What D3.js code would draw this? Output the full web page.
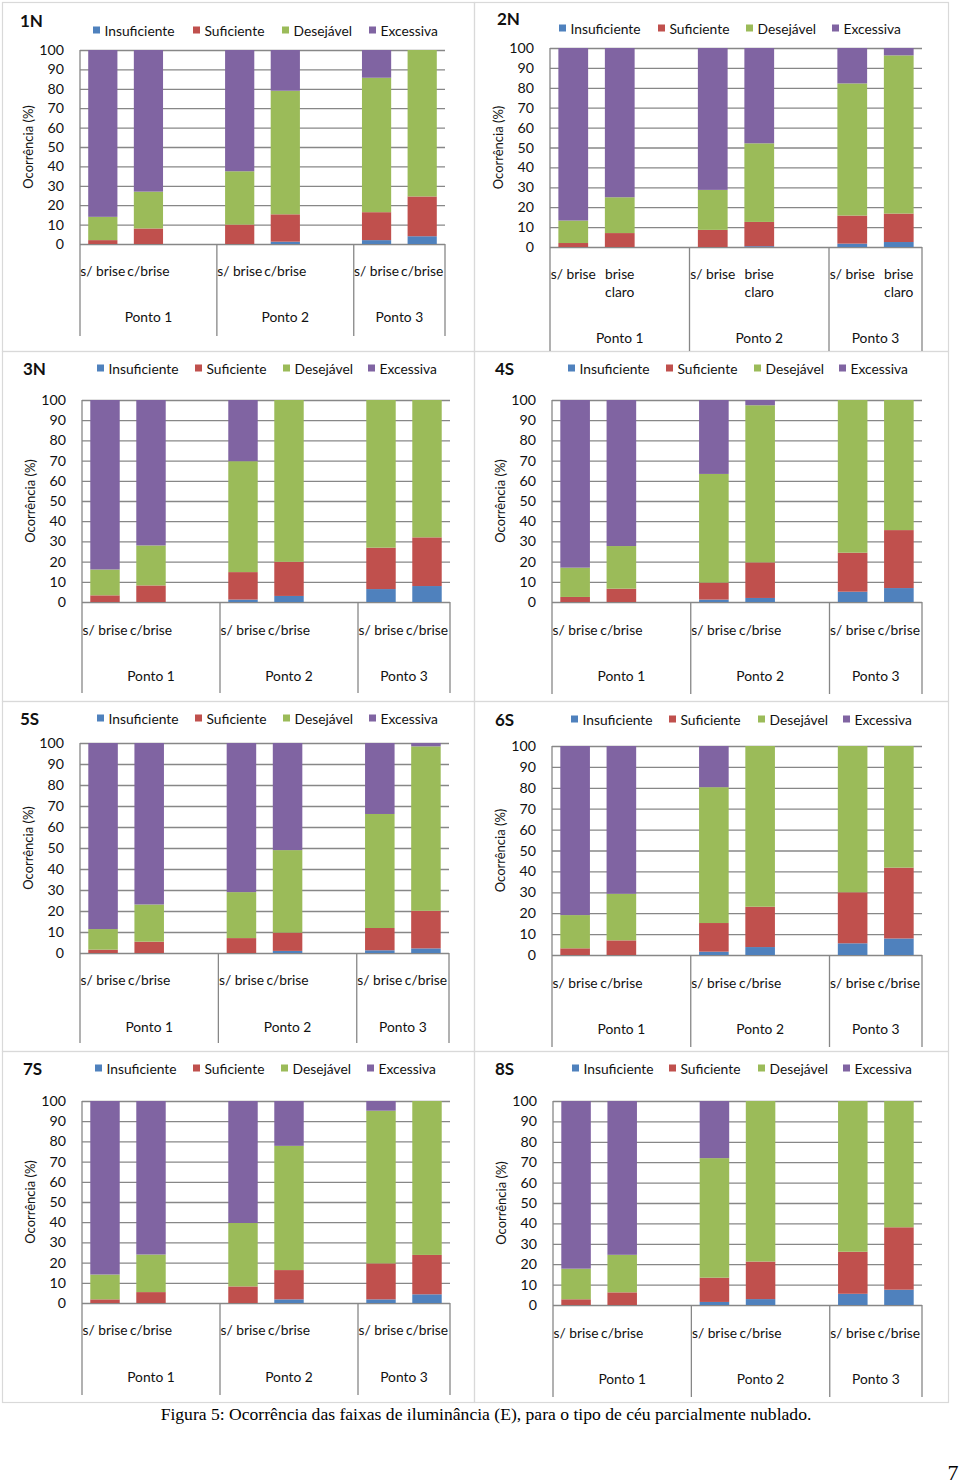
<!DOCTYPE html>
<html><head><meta charset="utf-8">
<script src="https://cdn.jsdelivr.net/npm/d3@7"></script>
<style>body{margin:0;background:#fff}svg{display:block}</style>
</head><body>
<svg id="c" width="960" height="1483"></svg>
<script>
// ---------- DATA ----------
const panelNames = ["1N", "2N", "3N", "4S", "5S", "6S", "7S", "8S"];
const seriesNames = ["Insuficiente", "Suficiente", "Desejável", "Excessiva"];
const pontos = ["Ponto 1", "Ponto 2", "Ponto 3"];
const barLabels = ["s/ brise", "c/brise"];
const barLabels2N = [["s/ brise"], ["brise", "claro"]];
const yTicks = [0, 10, 20, 30, 40, 50, 60, 70, 80, 90, 100];
const axisTitle = "Ocorrência (%)";
const caption = "Figura 5: Ocorrência das faixas de iluminância (E), para o tipo de céu parcialmente nublado.";
const pageNumber = "7";
// bars in order: P1 s/, P1 c/, P2 s/, P2 c/, P3 s/, P3 c/
const insuficiente = [
  [0, 0, 0, 1.2, 2, 4],
  [0, 0, 0, 0.4, 1.7, 2.5],
  [0, 0, 1.2, 3, 6.4, 7.9],
  [0, 0, 1.2, 2, 5.1, 6.9],
  [0, 0, 0, 1, 1.3, 2.2],
  [0, 0, 1.6, 3.8, 5.6, 7.9],
  [0, 0, 0, 1.8, 1.8, 4.3],
  [0, 0, 1.5, 2.9, 5.5, 7.5]
];
const suficiente = [
  [2, 8, 10, 14.1, 14.4, 20.5],
  [2, 7, 8.6, 12.2, 14.1, 14.3],
  [3.3, 8.2, 13.6, 16.9, 20.5, 24.1],
  [2.5, 6.6, 8.4, 17.6, 19.3, 28.7],
  [1.6, 5.4, 7.1, 8.7, 10.6, 17.9],
  [3.2, 7, 13.7, 19.3, 24.4, 33.9],
  [1.8, 5.4, 8.2, 14.5, 17.8, 19.5],
  [2.8, 6.2, 11.9, 18.4, 20.6, 30.6]
];
const desejavel = [
  [12, 19, 27.5, 63.7, 69.3, 75.5],
  [11.3, 18, 20.1, 39.5, 66.4, 79.5],
  [12.8, 19.8, 54.9, 80.1, 73.1, 68],
  [14.5, 21.1, 53.8, 77.8, 75.6, 64.4],
  [9.8, 17.7, 21.9, 39.3, 54.3, 78.3],
  [15.9, 22.3, 65, 76.9, 70, 58.2],
  [12.3, 18.6, 31.4, 61.5, 75.6, 76.2],
  [15, 18.4, 58.6, 78.7, 73.9, 61.9]
];
const excessiva = [
  [86, 73, 62.5, 21, 14.3, 0],
  [86.7, 75, 71.3, 47.9, 17.8, 3.7],
  [83.9, 72, 30.3, 0, 0, 0],
  [83, 72.3, 36.6, 2.6, 0, 0],
  [88.6, 76.9, 71, 51, 33.8, 1.6],
  [80.9, 70.7, 19.7, 0, 0, 0],
  [85.9, 76, 60.4, 22.2, 4.8, 0],
  [82.2, 75.4, 28, 0, 0, 0]
];

// ---------- LAYOUT / STYLE ----------
const colors = ["#4F81BD", "#C0504D", "#9BBB59", "#8064A2"];
const layout = [
  {L:80,  R:445, T:50,   B:244,  CB:336,  catY:270,  pY:316,  tx:20,  ty:20,   ly:30,   lx:[93,193,282,369]},
  {L:550, R:922, T:48,   B:247,  CB:351,  catY:273,  pY:337,  tx:497, ty:18,   ly:28,   lx:[559,658,746,832]},
  {L:82,  R:450, T:400,  B:602,  CB:693,  catY:629,  pY:675,  tx:23,  ty:368,  ly:368,  lx:[97,195,283,368]},
  {L:552, R:922, T:400,  B:602,  CB:694,  catY:629,  pY:675,  tx:495, ty:368,  ly:368,  lx:[568,666,754,839]},
  {L:80,  R:449, T:743,  B:953,  CB:1043, catY:979,  pY:1026, tx:20,  ty:718,  ly:718,  lx:[97,195,283,369]},
  {L:552, R:922, T:746,  B:955,  CB:1047, catY:982,  pY:1028, tx:495, ty:719,  ly:719,  lx:[571,669,758,843]},
  {L:82,  R:450, T:1101, B:1303, CB:1395, catY:1329, pY:1376, tx:23,  ty:1068, ly:1068, lx:[95,193,281,367]},
  {L:553, R:922, T:1101, B:1305, CB:1397, catY:1332, pY:1378, tx:495, ty:1068, ly:1068, lx:[572,669,758,843]}
];
const colX = [2, 474, 948];
const rowY = [2, 351, 701, 1051, 1402];
const FONT = "Lato, 'Open Sans', sans-serif";
const gridColor = "#878787";
const textColor = "#111";

const svg = d3.select("#c");
svg.append("rect").attr("width", 960).attr("height", 1483).attr("fill", "#fff");

// panel frames
for (let r = 0; r < 4; r++) for (let c = 0; c < 2; c++) {
  svg.append("rect")
    .attr("x", colX[c] + 0.5).attr("y", rowY[r] + 0.5)
    .attr("width", colX[c + 1] - colX[c]).attr("height", rowY[r + 1] - rowY[r])
    .attr("fill", "none").attr("stroke", "#d9d9d9").attr("stroke-width", 1.2);
}

const slots = ["P1a", "P1b", "P1x", "P2a", "P2b", "P2x", "P3a", "P3b"];
const barSlots = ["P1a", "P1b", "P2a", "P2b", "P3a", "P3b"];

panelNames.forEach((name, pi) => {
  const ly = layout[pi];
  const g = svg.append("g").style("font-family", FONT);
  const x = d3.scaleBand().domain(slots).range([ly.L, ly.R]).paddingInner(0.36).paddingOuter(0.18);
  const y = d3.scaleLinear().domain([0, 100]).range([ly.B, ly.T]);

  // gridlines
  const grid = g.append("g").attr("transform", `translate(${ly.L},0)`)
    .call(d3.axisLeft(y).tickValues(yTicks).tickSize(-(ly.R - ly.L)).tickFormat(""));
  grid.select(".domain").remove();
  grid.selectAll("line").attr("stroke", gridColor).attr("stroke-width", 1.3);

  // stacked bars
  const rows = barSlots.map((s, i) => ({
    slot: s,
    "Insuficiente": insuficiente[pi][i],
    "Suficiente": suficiente[pi][i],
    "Desejável": desejavel[pi][i],
    "Excessiva": excessiva[pi][i]
  }));
  const stacked = d3.stack().keys(seriesNames)(rows);
  stacked.forEach((layer, si) => {
    g.append("g").attr("fill", colors[si]).selectAll("rect").data(layer).join("rect")
      .attr("x", d => x(d.data.slot))
      .attr("width", x.bandwidth())
      .attr("y", d => y(Math.min(100, d[1])))
      .attr("height", d => Math.max(0, y(d[0]) - y(Math.min(100, d[1]))));
  });

  // y tick labels
  const yax = g.append("g").attr("transform", `translate(${ly.L},0)`)
    .call(d3.axisLeft(y).tickValues(yTicks).tickSize(0).tickPadding(16));
  yax.select(".domain").remove();
  yax.selectAll("text").attr("font-size", 14.2).attr("fill", textColor).style("font-family", FONT);

  // axis lines: left vertical, group separators
  const step = x.step();
  const bounds = [0, 3, 6, 8].map(k => ly.L + k * step);
  g.append("line").attr("x1", ly.L).attr("x2", ly.L).attr("y1", ly.T).attr("y2", ly.CB)
    .attr("stroke", gridColor).attr("stroke-width", 1.3);
  bounds.slice(1).forEach(bx => {
    g.append("line").attr("x1", bx).attr("x2", bx).attr("y1", ly.B).attr("y2", ly.CB)
      .attr("stroke", gridColor).attr("stroke-width", 1.3);
  });

  // category labels
  barSlots.forEach((s, i) => {
    const cx = x(s) + x.bandwidth() / 2;
    const lines = pi === 1 ? barLabels2N[i % 2] : [barLabels[i % 2]];
    lines.forEach((t, li) => {
      g.append("text").attr("x", cx).attr("y", ly.catY + li * 18)
        .attr("text-anchor", "middle").attr("dominant-baseline", "central")
        .attr("font-size", 13.8).attr("fill", textColor).text(t);
    });
  });
  pontos.forEach((p, k) => {
    g.append("text").attr("x", (bounds[k] + bounds[k + 1]) / 2).attr("y", ly.pY)
      .attr("text-anchor", "middle").attr("dominant-baseline", "central")
      .attr("font-size", 13.8).attr("fill", textColor).text(p);
  });

  // axis title
  g.append("text")
    .attr("transform", `translate(${ly.L - 52},${(ly.T + ly.B) / 2}) rotate(-90)`)
    .attr("text-anchor", "middle").attr("dominant-baseline", "central")
    .attr("font-size", 13).attr("fill", textColor).text(axisTitle);

  // panel title
  g.append("text").attr("x", ly.tx).attr("y", ly.ty).attr("dominant-baseline", "central")
    .attr("font-size", 17).attr("font-weight", "bold").attr("fill", textColor).text(name);

  // legend
  seriesNames.forEach((s, si) => {
    g.append("rect").attr("x", ly.lx[si]).attr("y", ly.ly - 3.5).attr("width", 7).attr("height", 7)
      .attr("fill", colors[si]);
    g.append("text").attr("x", ly.lx[si] + 11.5).attr("y", ly.ly).attr("dominant-baseline", "central")
      .attr("font-size", 13.8).attr("fill", textColor).text(s);
  });
});

// caption & page number
svg.append("text").attr("x", 486).attr("y", 1414).attr("text-anchor", "middle")
  .attr("dominant-baseline", "central").style("font-family", "'Liberation Serif', 'Times New Roman', serif")
  .attr("font-size", 17.6).attr("fill", "#000").text(caption);
svg.append("text").attr("x", 953).attr("y", 1472).attr("text-anchor", "middle")
  .attr("dominant-baseline", "central").style("font-family", "'Liberation Serif', 'Times New Roman', serif")
  .attr("font-size", 22).attr("fill", "#000").text(pageNumber);
</script>
</body></html>
